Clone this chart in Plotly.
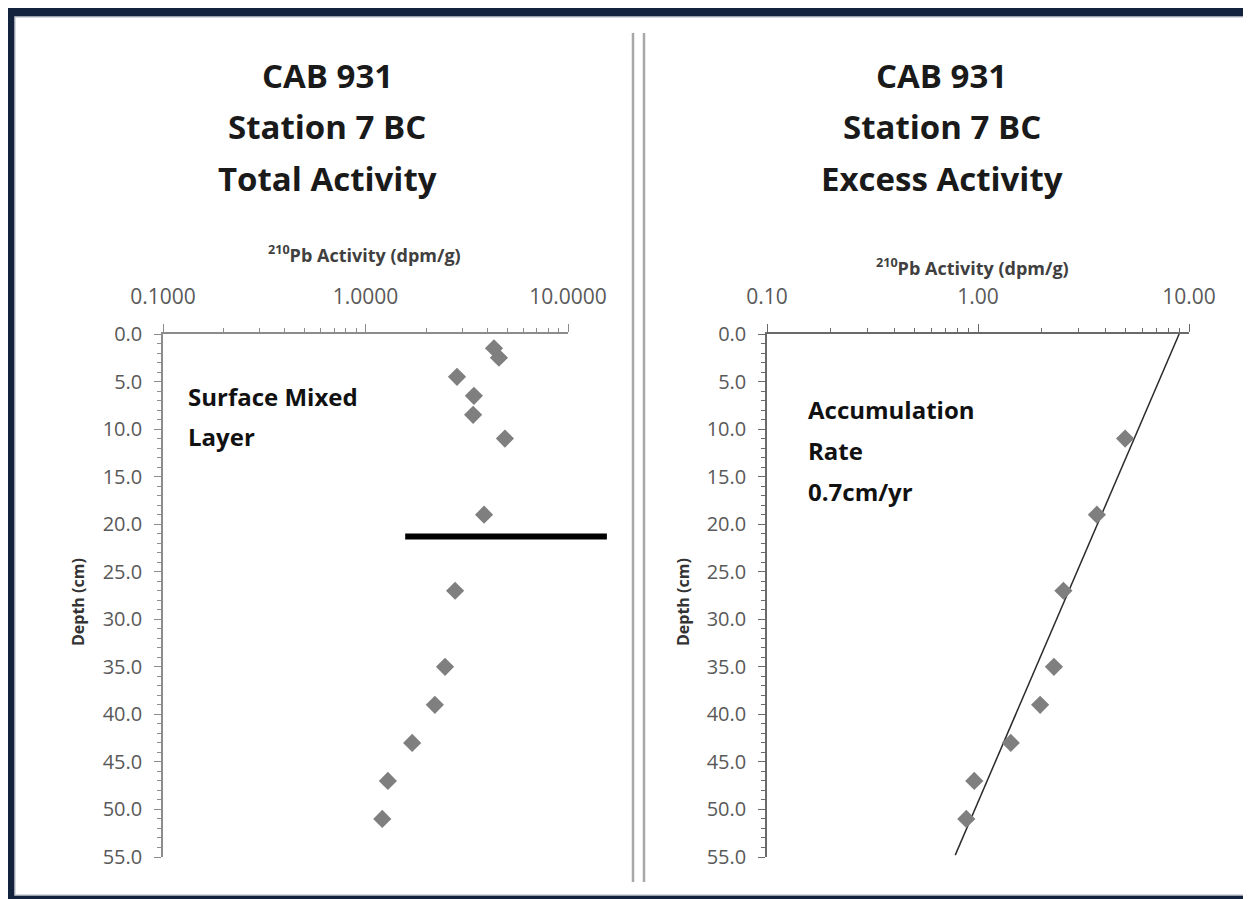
import plotly.graph_objects as go

# ---------------- data ----------------
depth_total = [1.5, 2.5, 4.5, 6.5, 8.5, 11.0, 19.0, 27.0, 35.0, 39.0, 43.0, 47.0, 51.0]
activity_total = [4.31, 4.56, 2.83, 3.43, 3.40, 4.88, 3.85, 2.77, 2.47, 2.20, 1.70, 1.29, 1.21]

depth_excess = [11.0, 19.0, 27.0, 35.0, 39.0, 43.0, 47.0, 51.0]
activity_excess = [4.98, 3.66, 2.54, 2.29, 1.97, 1.43, 0.96, 0.88]

fit_depth = [0.0, 54.8]
fit_activity = [8.98, 0.78]

mixed_layer_depth = 21.3

left_ticktext = ["0.1000", "1.0000", "10.0000"]
right_ticktext = ["0.10", "1.00", "10.00"]
major_x = [0.1, 1, 10]
minor_x = [0.2, 0.3, 0.4, 0.5, 0.6, 0.7, 0.8, 0.9, 2, 3, 4, 5, 6, 7, 8, 9]

left_title = ["CAB 931", "Station 7 BC", "Total Activity"]
right_title = ["CAB 931", "Station 7 BC", "Excess Activity"]
left_note = ["Surface Mixed", "Layer"]
right_note = ["Accumulation", "Rate", "0.7cm/yr"]
x_title = "<sup>210</sup>Pb Activity (dpm/g)"
y_title = "Depth (cm)"

# ---------------- figure ----------------
# page body keeps an 8px margin, so the figure starts at page (8, 8)
OFF = 8
W, H = 1251 - OFF, 899 - OFF
FONT = "Open Sans"
TICK_C = "#595959"

def px(x):
    return (x - OFF) / W

def py(y):
    return 1 - (y - OFF) / H

fig = go.Figure()

fig.add_trace(go.Scatter(x=activity_total, y=depth_total, mode="markers",
                         marker=dict(symbol="diamond", size=14, color="#7f7f7f"),
                         xaxis="x", yaxis="y", showlegend=False))
fig.add_trace(go.Scatter(x=fit_activity, y=fit_depth, mode="lines",
                         line=dict(color="#2b2b2b", width=1.5),
                         xaxis="x2", yaxis="y2", showlegend=False))
fig.add_trace(go.Scatter(x=activity_excess, y=depth_excess, mode="markers",
                         marker=dict(symbol="diamond", size=14, color="#7f7f7f"),
                         xaxis="x2", yaxis="y2", showlegend=False))

ydom = [py(857), py(334)]

def xax(domain, anchor, ticktext, lc):
    return dict(type="log", range=[-1, 1], side="top", anchor=anchor, domain=domain,
                automargin=False,
                tickmode="array", tickvals=major_x, ticktext=ticktext,
                ticks="outside", ticklen=8, tickwidth=1.2, tickcolor=lc,
                showline=True, linecolor=lc, linewidth=1.5,
                showgrid=False, zeroline=False, ticklabelstandoff=12,
                tickfont=dict(family=FONT, size=21, color=TICK_C),
                minor=dict(tickmode="array", tickvals=minor_x, ticks="outside",
                           ticklen=4, tickcolor=lc, showgrid=False))

def yax(anchor, lc):
    return dict(range=[55, 0], anchor=anchor, domain=ydom,
                automargin=False,
                tickmode="linear", tick0=0, dtick=5, tickformat=".1f",
                ticks="outside", ticklen=7, tickwidth=1.2, tickcolor=lc,
                showline=True, linecolor=lc, linewidth=1.5,
                showgrid=False, zeroline=False, ticklabelstandoff=8,
                tickfont=dict(family=FONT, size=20, color=TICK_C),
                minor=dict(dtick=1, ticks="outside", ticklen=4, tickcolor=lc, showgrid=False))

annotations = []

def text(x, y, s, size, color="#1a1a1a", xanchor="center", angle=0):
    annotations.append(dict(xref="paper", yref="paper", x=px(x), y=py(y), text=s,
                            showarrow=False, xanchor=xanchor, yanchor="middle",
                            textangle=angle,
                            font=dict(family=FONT, size=size, color=color)))

for i, s in enumerate(left_title):
    text(327, 76 + 51 * i, "<b>%s</b>" % s, 33)
for i, s in enumerate(right_title):
    text(942, 76 + 51 * i, "<b>%s</b>" % s, 33)

text(364, 254, "<b>%s</b>" % x_title, 18, "#404040")
text(972, 267, "<b>%s</b>" % x_title, 18, "#404040")
text(78, 602, "<b>%s</b>" % y_title, 16, "#333333", angle=-90)
text(683, 602, "<b>%s</b>" % y_title, 16, "#333333", angle=-90)

for i, s in enumerate(left_note):
    text(186, 396 + 40 * i, "<b>%s</b>" % s, 24, "#111111", xanchor="left")
for i, s in enumerate(right_note):
    text(806, 410 + 40.5 * i, "<b>%s</b>" % s, 24, "#111111", xanchor="left")

shapes = [
    dict(type="rect", xref="paper", yref="paper", x0=-0.01, x1=1.01, y0=-0.01, y1=1.01,
         fillcolor="#13233d", line=dict(width=0), layer="below"),
    dict(type="rect", xref="paper", yref="paper", x0=px(15), x1=px(1247), y0=py(895), y1=py(17),
         fillcolor="#ffffff", line=dict(color="#c9cdd2", width=1.5), layer="below"),
    dict(type="line", xref="paper", yref="paper", x0=px(633), x1=px(633), y0=py(882), y1=py(33),
         line=dict(color="#a8a8a8", width=2.5)),
    dict(type="line", xref="paper", yref="paper", x0=px(644), x1=px(644), y0=py(882), y1=py(33),
         line=dict(color="#a8a8a8", width=2.5)),
    dict(type="line", xref="x domain", yref="y", x0=0.598, x1=1.096,
         y0=mixed_layer_depth, y1=mixed_layer_depth,
         line=dict(color="#000000", width=6)),
]

fig.update_layout(
    width=W, height=H,
    autosize=False,
    margin=dict(l=0, r=0, t=0, b=0, pad=0, autoexpand=False),
    paper_bgcolor="#ffffff", plot_bgcolor="rgba(0,0,0,0)",
    showlegend=False,
    xaxis=xax([px(163), px(568)], "y", left_ticktext, "#8c8c8c"),
    yaxis=yax("x", "#8c8c8c"),
    xaxis2=xax([px(767), px(1189)], "y2", right_ticktext, "#6a6a6a"),
    yaxis2=yax("x2", "#6a6a6a"),
    annotations=annotations,
    shapes=shapes,
)

fig.write_html("out.html")
